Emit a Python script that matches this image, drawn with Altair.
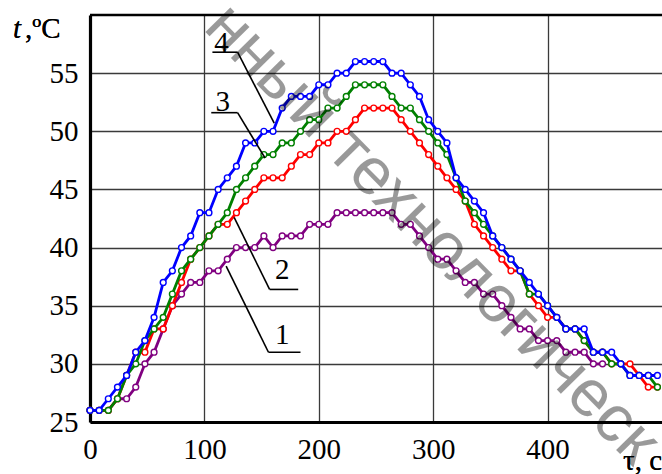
import altair as alt
import pandas as pd

# time axis (s), one sample every 8 s
t_all = list(range(0, 497, 8))

curve4 = [26, 26, 27, 28, 29, 31, 32, 34, 37, 38,
          40, 41, 43, 43, 45, 46, 47, 49, 49, 50,
          50, 52, 53, 53, 53, 54, 54, 55, 55, 56,
          56, 56, 56, 55, 55, 54, 53, 51, 50, 49,
          46, 45, 44, 43, 41, 40, 39, 38, 37, 36,
          35, 34, 33, 33, 33, 31, 31, 31, 30, 29,
          29, 29, 29]
curve3 = [26, 26, 26, 27, 29, 30, 32, 33, 34, 36,
          38, 39, 40, 41, 42, 43, 45, 46, 47, 48,
          48, 49, 49, 50, 51, 51, 52, 52, 53, 54,
          54, 54, 54, 53, 52, 52, 51, 50, 49, 48,
          46, 44, 43, 42, 41, 40, 39, 38, 36, 36,
          35, 34, 33, 33, 32, 31, 31, 30, 30, 29,
          29, 29, 28]
curve2 = [26, 26, 26, 27, 29, 31, 31, 33, 33, 35,
          37, 39, 40, 41, 42, 42, 43, 44, 45, 46,
          46, 46, 47, 48, 48, 49, 49, 50, 50, 51,
          52, 52, 52, 52, 51, 50, 49, 48, 47, 46,
          45, 44, 42, 41, 40, 39, 38, 38, 36, 35,
          34, 34, 33, 33, 32, 31, 31, 30, 30, 30,
          29, 28, 28]
curve1 = [26, 26, 26, 27, 27, 28, 30, 31, 33, 35,
          36, 37, 37, 38, 38, 39, 40, 40, 40, 41,
          40, 41, 41, 41, 42, 42, 42, 43, 43, 43,
          43, 43, 43, 43, 42, 42, 41, 40, 39, 39,
          38, 37, 37, 36, 36, 35, 34, 33, 33, 32,
          32, 32, 31, 31, 31, 30, 30]

series = [("1", curve1, "#800080"), ("2", curve2, "#ff0000"),
          ("3", curve3, "#008000"), ("4", curve4, "#0000ff")]

x_ticks = [0, 100, 200, 300, 400]
y_ticks = [25, 30, 35, 40, 45, 50, 55]

# annotation labels and leader lines (data coordinates)
lab_text = ["4", "3", "2", "1"]
lab_x = [115, 116, 168, 168]
lab_y = [57.6, 52.5, 38.1, 32.5]
lead_x1 = [107, 106, 157, 156, 161, 153, 126, 119]
lead_y1 = [56.8, 51.6, 36.4, 31.0, 50.7, 47.7, 42.6, 38.4]
lead_x2 = [129, 129, 182, 184, 129, 129, 157, 156]
lead_y2 = [56.8, 51.6, 36.4, 31.0, 56.8, 51.6, 36.4, 31.0]

W, H = 572, 407
xs = alt.Scale(domain=[0, 500], nice=False, zero=False)
ys = alt.Scale(domain=[25, 60], nice=False, zero=False)
SERIF = "Liberation Serif"

layers = []

# base layer carrying axes & grid
axis_df = pd.DataFrame({"t": [0, 500], "T": [25, 60]})
base = alt.Chart(axis_df).mark_point(opacity=0).encode(
    x=alt.X("t:Q", scale=xs, axis=alt.Axis(
        values=x_ticks, grid=True, gridColor="#3a3a3a", gridWidth=1.3,
        domainColor="black", domainWidth=3.2, ticks=False,
        labelFont=SERIF, labelFontSize=29, labelColor="black",
        labelPadding=13, title=None, labelFlush=False)),
    y=alt.Y("T:Q", scale=ys, axis=alt.Axis(
        values=y_ticks, grid=True, gridColor="#3a3a3a", gridWidth=1.3,
        domainColor="black", domainWidth=3.2, ticks=False,
        labelFont=SERIF, labelFontSize=29, labelColor="black",
        labelPadding=12, title=None)),
)
layers.append(base)

# top border
top_df = pd.DataFrame({"t": [0], "t2": [500], "T": [60]})
layers.append(alt.Chart(top_df).mark_rule(color="black", strokeWidth=2.6).encode(
    x=alt.X("t:Q", scale=xs), x2="t2:Q", y=alt.Y("T:Q", scale=ys)))

for name, vals, col in series:
    df = pd.DataFrame({"t": t_all[:len(vals)], "T": vals})
    layers.append(alt.Chart(df).mark_line(color=col, strokeWidth=2.8).encode(
        x=alt.X("t:Q", scale=xs), y=alt.Y("T:Q", scale=ys)))
    layers.append(alt.Chart(df).mark_point(
        shape="circle", size=34, filled=True, fill="white", stroke=col,
        strokeWidth=1.4, opacity=1).encode(
        x=alt.X("t:Q", scale=xs), y=alt.Y("T:Q", scale=ys)))

lead_df = pd.DataFrame({"x1": lead_x1, "y1": lead_y1, "x2": lead_x2, "y2": lead_y2})
layers.append(alt.Chart(lead_df).mark_rule(color="black", strokeWidth=1.6).encode(
    x=alt.X("x1:Q", scale=xs), y=alt.Y("y1:Q", scale=ys), x2="x2:Q", y2="y2:Q"))

lab_df = pd.DataFrame({"x": lab_x, "y": lab_y, "txt": lab_text})
layers.append(alt.Chart(lab_df).mark_text(font=SERIF, fontSize=29, color="black",
                                          align="center", baseline="middle").encode(
    x=alt.X("x:Q", scale=xs), y=alt.Y("y:Q", scale=ys), text="txt:N"))

# axis titles
layers.append(alt.Chart(axis_df).mark_text(text="t", font=SERIF, fontSize=29,
                                           fontStyle="italic", align="left",
                                           baseline="alphabetic", color="black").encode(
    x=alt.value(-77), y=alt.value(23)))
layers.append(alt.Chart(axis_df).mark_text(text=",ºC", font=SERIF, fontSize=29,
                                           align="left", baseline="alphabetic",
                                           color="black").encode(
    x=alt.value(-65), y=alt.value(23)))
layers.append(alt.Chart(axis_df).mark_text(text="τ, с", font=SERIF, fontSize=29,
                                           align="left", baseline="alphabetic",
                                           color="black").encode(
    x=alt.value(533), y=alt.value(455)))

# watermark
layers.append(alt.Chart(axis_df).mark_text(text="нный технологическ", font="Liberation Sans",
                                           fontSize=66, angle=45.5, color="black",
                                           opacity=0.22, align="center",
                                           baseline="middle").encode(
    x=alt.value(342), y=alt.value(219)))

chart = alt.layer(*layers).properties(
    width=W, height=H,
    autosize=alt.AutoSizeParams(type="none"),
    padding={"left": 90, "top": 15, "right": 0, "bottom": 52},
).configure_view(stroke=None).configure(background="white")

chart.save("out.html", embed_options={"renderer": "svg", "actions": False})
